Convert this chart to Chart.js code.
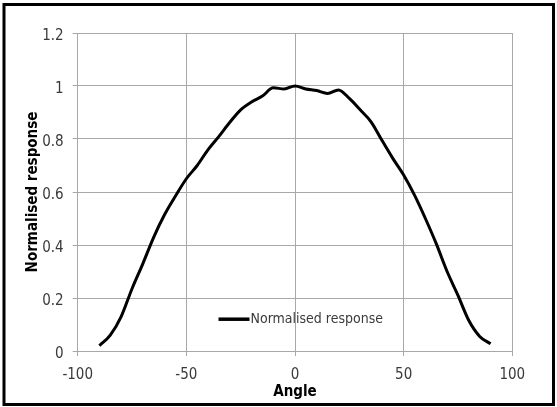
<!DOCTYPE html>
<html>
<head>
<meta charset="utf-8">
<script src="https://cdn.jsdelivr.net/npm/chart.js@4/dist/chart.umd.min.js"></script>
<style>
  html, body { margin: 0; padding: 0; background: #fff; }
  #wrap { position: relative; width: 557px; height: 407px; }
</style>
</head>
<body>
<div id="wrap"><canvas id="c" width="557" height="407"></canvas></div>
<script>
const seriesLabel = 'Normalised response';
const xTitle = 'Angle';
const yTitle = 'Normalised response';
const angles = [-90, -85, -80, -75, -70, -65, -60, -55, -50, -45, -40, -35, -30, -25, -20, -15, -10, -5, 0, 5, 10, 15, 20, 25, 30, 35, 40, 45, 50, 55, 60, 65, 70, 75, 80, 85, 90];
const response = [0.02, 0.06, 0.13, 0.235, 0.33, 0.43, 0.515, 0.585, 0.65, 0.70, 0.76, 0.81, 0.863, 0.91, 0.94, 0.962, 0.993, 0.989, 1.0, 0.989, 0.983, 0.972, 0.985, 0.953, 0.91, 0.865, 0.795, 0.727, 0.664, 0.588, 0.50, 0.405, 0.30, 0.21, 0.115, 0.055, 0.027];
const xTicks = [-100, -50, 0, 50, 100];
const yTicks = [0, 0.2, 0.4, 0.6, 0.8, 1, 1.2];

const FONT = "'Liberation Sans Narrow', 'DejaVu Sans Condensed', 'Liberation Sans', Arial, sans-serif";
const GRID = '#a8a8a8';
const TICKCOL = '#3a3a3a';

const framePlugin = {
  id: 'frame',
  afterDraw(chart) {
    const ctx = chart.ctx;
    ctx.save();
    ctx.strokeStyle = '#000';
    ctx.lineWidth = 3;
    ctx.strokeRect(4, 4.5, 549.5, 400);
    ctx.restore();
  }
};

const innerLegend = {
  id: 'innerLegend',
  afterDatasetsDraw(chart) {
    const ds = chart.data.datasets[0];
    const a = chart.chartArea;
    const ctx = chart.ctx;
    const x0 = a.left + (a.right - a.left) * 0.324;
    const x1 = x0 + 31;
    const y = a.top + (a.bottom - a.top) * 0.900;
    ctx.save();
    ctx.strokeStyle = ds.borderColor;
    ctx.lineWidth = 3.5;
    ctx.beginPath();
    ctx.moveTo(x0, y);
    ctx.lineTo(x1, y);
    ctx.stroke();
    ctx.fillStyle = TICKCOL;
    ctx.font = "14px " + FONT;
    ctx.textBaseline = 'middle';
    ctx.textAlign = 'left';
    ctx.fillText(ds.label, x1 + 1, y);
    ctx.restore();
  }
};

new Chart(document.getElementById('c'), {
  type: 'scatter',
  data: {
    datasets: [{
      label: seriesLabel,
      data: angles.map((a, i) => ({ x: a, y: response[i] })),
      showLine: true,
      borderColor: '#000',
      borderWidth: 3,
      pointRadius: 0,
      cubicInterpolationMode: 'monotone',
      fill: false
    }]
  },
  options: {
    responsive: false,
    animation: false,
    devicePixelRatio: 1,
    layout: { padding: { top: 33, right: 44.7, left: 0, bottom: 0 } },
    plugins: {
      legend: { display: false },
      tooltip: { enabled: false }
    },
    scales: {
      x: {
        type: 'linear',
        min: xTicks[0],
        max: xTicks[xTicks.length - 1],
        afterBuildTicks(axis) { axis.ticks = xTicks.map(v => ({ value: v })); },
        afterFit(axis) { axis.height = 56; },
        grid: { color: GRID, lineWidth: 1, tickLength: 5, drawTicks: true },
        border: { color: GRID, width: 1 },
        ticks: { color: TICKCOL, font: { family: FONT, size: 15 }, padding: 10, maxRotation: 0 },
        title: { display: true, text: xTitle, color: '#000', font: { family: FONT, size: 15, weight: 'bold' }, padding: { top: 0, bottom: 6 } }
      },
      y: {
        min: yTicks[0],
        max: yTicks[yTicks.length - 1],
        afterBuildTicks(axis) { axis.ticks = yTicks.map(v => ({ value: v })); },
        afterFit(axis) { axis.width = 77.7; },
        grid: { color: GRID, lineWidth: 1, tickLength: 5, drawTicks: true },
        border: { color: GRID, width: 1 },
        ticks: { color: TICKCOL, font: { family: FONT, size: 15 }, padding: 9, labelOffset: 3, callback: v => String(v) },
        title: { display: true, text: yTitle, color: '#000', font: { family: FONT, size: 15, weight: 'bold' }, padding: { top: 24, bottom: 0 } }
      }
    }
  },
  plugins: [framePlugin, innerLegend]
});
</script>
</body>
</html>
